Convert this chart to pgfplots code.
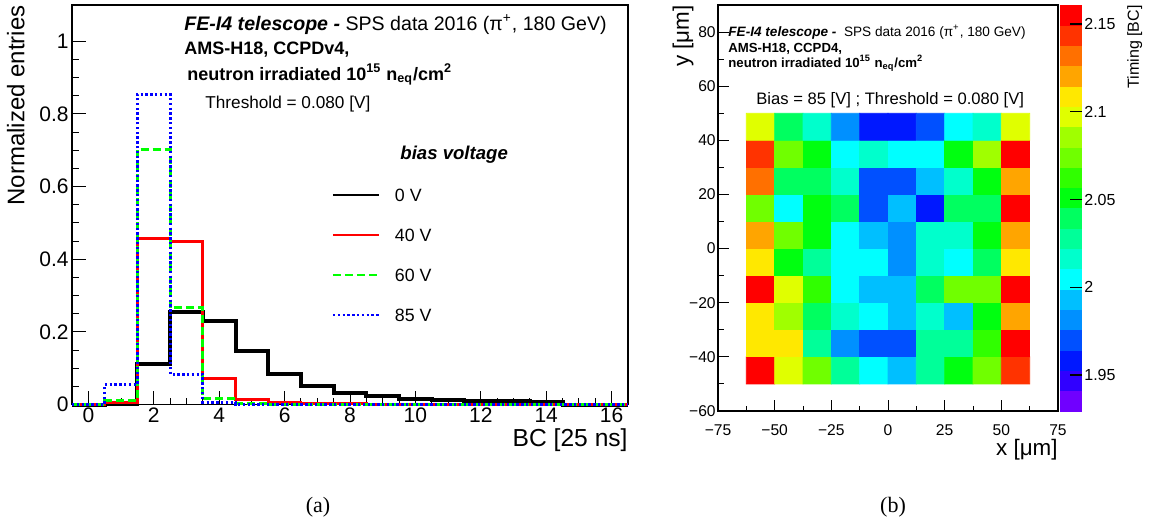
\documentclass[border=0pt]{standalone}
\usepackage{fontspec}
\setmainfont{Liberation Sans}
\newfontfamily\capfont{Liberation Serif}
\usepackage{pgfplots}
\pgfplotsset{compat=1.18}
\usepackage{pgfplotstable}

\definecolor{rgreen}{rgb}{0,1,0}
\definecolor{rblue}{rgb}{0,0,1}
\definecolor{rred}{rgb}{1,0,0}

% left panel: normalized BC distributions, bins centred on integers (left edges listed)
\pgfplotstableread{
x v0 v40 v60 v85
-0.5 0 0 0 0
0.5 0.003 0.005 0.011 0.055
1.5 0.112 0.456 0.703 0.855
2.5 0.254 0.448 0.266 0.084
3.5 0.231 0.071 0.017 0.006
4.5 0.147 0.013 0.004 0
5.5 0.085 0.006 0 0
6.5 0.052 0.003 0 0
7.5 0.033 0.002 0 0
8.5 0.023 0 0 0
9.5 0.016 0 0 0
10.5 0.013 0 0 0
11.5 0.011 0 0 0
12.5 0.009 0 0 0
13.5 0.007 0 0 0
14.5 0 0 0 0
15.5 0 0 0 0
16.5 0 0 0 0
}\histtable

% right panel: timing map, cell centres
\pgfplotstableread{
x y t
-56.25 -45 2.155
-43.75 -45 2.097
-31.25 -45 2.074
-18.75 -45 2.028
-6.25 -45 2.005
6.25 -45 1.993
18.75 -45 2.028
31.25 -45 2.051
43.75 -45 2.074
56.25 -45 2.143
-56.25 -35 2.109
-43.75 -35 2.109
-31.25 -35 2.028
-18.75 -35 1.982
-6.25 -35 1.970
6.25 -35 1.970
18.75 -35 2.028
31.25 -35 2.028
43.75 -35 2.063
56.25 -35 2.155
-56.25 -25 2.109
-43.75 -25 2.086
-31.25 -25 2.039
-18.75 -25 2.016
-6.25 -25 2.005
6.25 -25 1.993
18.75 -25 2.016
31.25 -25 1.993
43.75 -25 2.051
56.25 -25 2.120
-56.25 -15 2.155
-43.75 -15 2.097
-31.25 -15 2.063
-18.75 -15 2.005
-6.25 -15 1.993
6.25 -15 1.993
18.75 -15 2.039
31.25 -15 2.074
43.75 -15 2.074
56.25 -15 2.155
-56.25 -5 2.109
-43.75 -5 2.051
-31.25 -5 2.028
-18.75 -5 2.005
-6.25 -5 2.005
6.25 -5 1.982
18.75 -5 2.016
31.25 -5 2.005
43.75 -5 2.039
56.25 -5 2.109
-56.25 5 2.120
-43.75 5 2.074
-31.25 5 2.051
-18.75 5 2.005
-6.25 5 1.993
6.25 5 1.982
18.75 5 2.016
31.25 5 2.016
43.75 5 2.051
56.25 5 2.120
-56.25 15 2.074
-43.75 15 2.005
-31.25 15 2.051
-18.75 15 2.039
-6.25 15 1.970
6.25 15 1.993
18.75 15 1.958
31.25 15 2.039
43.75 15 2.039
56.25 15 2.155
-56.25 25 2.132
-43.75 25 2.039
-31.25 25 2.039
-18.75 25 2.016
-6.25 25 1.970
6.25 25 1.970
18.75 25 1.993
31.25 25 2.016
43.75 25 2.051
56.25 25 2.120
-56.25 35 2.143
-43.75 35 2.074
-31.25 35 2.051
-18.75 35 2.005
-6.25 35 2.016
6.25 35 2.005
18.75 35 2.005
31.25 35 2.051
43.75 35 2.086
56.25 35 2.155
-56.25 45 2.097
-43.75 45 2.039
-31.25 45 2.016
-18.75 45 1.982
-6.25 45 1.958
6.25 45 1.958
18.75 45 1.970
31.25 45 2.005
43.75 45 2.016
56.25 45 2.097
}\maptable

\begin{document}
\begin{tikzpicture}
\useasboundingbox (0,0) rectangle (575bp,-262bp);

% ---------------- left panel ----------------
\begin{axis}[
  at={(36bp,-202.3bp)}, anchor=south west,
  scale only axis, width=278bp, height=199.8bp,
  xmin=-0.5, xmax=16.5, ymin=0, ymax=1.1,
  xtick={0,2,4,6,8,10,12,14,16},
  ytick={0,0.2,0.4,0.6,0.8,1},
  minor x tick num=3, minor y tick num=3,
  tick align=inside, tick pos=left,
  major tick length=7bp, minor tick length=3.5bp,
  tick style={black, line width=0.5bp},
  axis line style={line width=0.8bp},
  /pgf/number format/assume math mode=true,
  tick label style={font=\fontsize{10.5bp}{12bp}\selectfont, inner sep=1.5bp},
  xlabel={BC [25 ns]},
  xlabel style={at={([yshift=-11.7bp]rel axis cs:1,0)}, anchor=north east, inner sep=0pt, font=\fontsize{12.3bp}{14bp}\selectfont},
  ylabel={Normalized entries},
  ylabel style={at={([xshift=-23.5bp]rel axis cs:0,1)}, anchor=south east, inner sep=0pt, font=\fontsize{12bp}{14bp}\selectfont},
  clip=false,
  legend cell align=left,
  legend style={draw=none, fill=none, at={(rel axis cs:0.4676,0.5398)}, anchor=north west,
    inner sep=0pt, outer sep=0pt, row sep=13.6bp, column sep=7.5bp,
    font=\fontsize{8.9bp}{10bp}\selectfont,
    nodes={inner sep=0pt, text height=6.4bp, text depth=0pt}},
  legend image code/.code={\draw[#1, line width=1bp] (0bp,0.4bp) -- (23bp,0.4bp);},
]
\addplot[const plot, black, line width=2bp] table[x=x, y=v0] {\histtable};
\addlegendentry{0 V}
\addplot[const plot, rred, line width=1.5bp] table[x=x, y=v40] {\histtable};
\addlegendentry{40 V}
\addplot[const plot, color=rgreen, line width=1.5bp, dash pattern=on 4bp off 2bp] table[x=x, y=v60] {\histtable};
\addlegendentry{60 V}
\addplot[const plot, color=rblue, line width=1.5bp, dash pattern=on 1.2bp off 1.2bp] table[x=x, y=v85] {\histtable};
\addlegendentry{85 V}

\node[anchor=base west, inner sep=0pt, font=\fontsize{9.8bp}{12bp}\selectfont] at (rel axis cs:0.2014,0.9374)
  {\textbf{\textit{FE-I4 telescope -}} SPS data 2016 (π\textsuperscript{+}, 180 GeV)};
\node[anchor=base west, inner sep=0pt, font=\fontsize{9bp}{11bp}\selectfont\bfseries] at (rel axis cs:0.2014,0.8749)
  {AMS-H18, CCPDv4,};
\node[anchor=base west, inner sep=0pt, font=\fontsize{9bp}{11bp}\selectfont\bfseries] at (rel axis cs:0.2068,0.8123)
  {neutron irradiated 10\textsuperscript{15} n\textsubscript{eq}/cm\textsuperscript{2}};
\node[anchor=base west, inner sep=0pt, font=\fontsize{8.6bp}{10bp}\selectfont] at (rel axis cs:0.2392,0.7422)
  {Threshold = 0.080 [V]};
\node[anchor=base west, inner sep=0pt, font=\fontsize{9.3bp}{11bp}\selectfont\bfseries\itshape] at (rel axis cs:0.5899,0.6146)
  {bias voltage};
\end{axis}

% ---------------- right panel ----------------
\begin{axis}[
  at={(359bp,-205.5bp)}, anchor=south west,
  scale only axis, width=170bp, height=203bp,
  xmin=-75, xmax=75, ymin=-60, ymax=90,
  xtick={-75,-50,-25,0,25,50,75}, xticklabels={−75,−50,−25,0,25,50,75},
  ytick={-60,-40,-20,0,20,40,60,80}, yticklabels={−60,−40,−20,0,20,40,60,80},
  minor x tick num=1, minor y tick num=1,
  tick align=inside, tick pos=left,
  major tick length=5.5bp, minor tick length=2.75bp,
  tick style={black, line width=0.5bp},
  axis line style={line width=0.8bp},
  tick label style={font=\fontsize{7.8bp}{9bp}\selectfont, inner sep=1bp},
  xticklabel style={yshift=-5.5bp},
  xlabel={x [μm]},
  xlabel style={at={([yshift=-14bp]rel axis cs:1,0)}, anchor=north east, inner sep=0pt, font=\fontsize{11.2bp}{13bp}\selectfont},
  ylabel={y [μm]},
  ylabel style={at={([xshift=-12bp]rel axis cs:0,1)}, anchor=south east, inner sep=0pt, font=\fontsize{11.2bp}{13bp}\selectfont},
  colormap={roottime}{
    rgb255(0cm)=(112,0,255) rgb255(1cm)=(48,0,255) rgb255(2cm)=(0,24,255) rgb255(3cm)=(0,80,255)
    rgb255(4cm)=(0,144,255) rgb255(5cm)=(0,191,255) rgb255(6cm)=(0,255,255) rgb255(7cm)=(0,255,204)
    rgb255(8cm)=(0,255,153) rgb255(9cm)=(0,255,96) rgb255(10cm)=(0,255,16) rgb255(11cm)=(48,255,0)
    rgb255(12cm)=(112,255,0) rgb255(13cm)=(160,255,0) rgb255(14cm)=(224,255,0) rgb255(15cm)=(255,232,0)
    rgb255(16cm)=(255,165,0) rgb255(17cm)=(255,112,0) rgb255(18cm)=(255,51,0) rgb255(19cm)=(255,0,0)
    rgb255(20cm)=(255,0,0)},
  colormap access=piecewise constant,
  point meta min=1.9295, point meta max=2.1608,
  colorbar,
  colorbar shift/.style={xshift=1bp},
  colorbar style={
    at={(parent axis.north east)}, anchor=north west,
    scale only axis, width=11bp, height=203bp,
    ytick={1.95,2,2.05,2.1,2.15}, yticklabels={1.95,2,2.05,2.1,2.15},
    minor y tick num=0,
    ytick pos=right, yticklabel pos=right,
    tick align=inside, major tick length=6bp,
    tick style={black, line width=0.6bp},
    yticklabel style={font=\fontsize{8bp}{9.5bp}\selectfont, inner sep=1bp},
    ylabel={Timing [BC]},
    ylabel style={at={([xshift=22.5bp]rel axis cs:1,1)}, anchor=north east, inner sep=0pt, font=\fontsize{8bp}{10bp}\selectfont},
    axis line style={draw=none},
    axis on top,
  },
  axis on top,
]
\addplot[matrix plot*, mesh/cols=10, point meta=explicit] table[x=x, y=y, meta=t] {\maptable};

\node[anchor=base west, inner sep=0pt, font=\fontsize{6.8bp}{8.5bp}\selectfont] at (rel axis cs:0.0294,0.9236)
  {\textbf{\textit{FE-I4 telescope -}}\ \ SPS data 2016 (π\textsuperscript{+}, 180 GeV)};
\node[anchor=base west, inner sep=0pt, font=\fontsize{6.6bp}{8bp}\selectfont\bfseries] at (rel axis cs:0.0294,0.8830)
  {AMS-H18, CCPD4,};
\node[anchor=base west, inner sep=0pt, font=\fontsize{6.6bp}{8bp}\selectfont\bfseries] at (rel axis cs:0.0294,0.8460)
  {neutron irradiated 10\textsuperscript{15} n\textsubscript{eq}/cm\textsuperscript{2}};
\node[anchor=base west, inner sep=0pt, font=\fontsize{8.3bp}{10bp}\selectfont] at (rel axis cs:0.1118,0.7562)
  {Bias = 85 [V] ; Threshold = 0.080 [V]};
\end{axis}

\node[font=\capfont\fontsize{11bp}{13bp}\selectfont] at (159bp,-253.5bp) {(a)};
\node[font=\capfont\fontsize{11bp}{13bp}\selectfont] at (446.5bp,-253.5bp) {(b)};
\end{tikzpicture}
\end{document}
